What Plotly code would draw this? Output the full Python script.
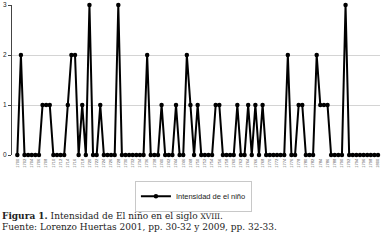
import plotly.graph_objects as go

years = list(range(1700, 1801))
intensidad = [
    0, 2, 0, 0, 0, 0, 0, 1, 1, 1,
    0, 0, 0, 0, 1, 2, 2, 0, 1, 0,
    3, 0, 0, 1, 0, 0, 0, 0, 3, 0,
    0, 0, 0, 0, 0, 0, 2, 0, 0, 0,
    1, 0, 0, 0, 1, 0, 0, 2, 1, 0,
    1, 0, 0, 0, 0, 1, 1, 0, 0, 0,
    0, 1, 0, 0, 1, 0, 1, 0, 1, 0,
    0, 0, 0, 0, 0, 2, 0, 0, 1, 1,
    0, 0, 0, 2, 1, 1, 1, 0, 0, 0,
    0, 3, 0, 0, 0, 0, 0, 0, 0, 0,
    0,
]
tick_years = years[::2]
tick_labels = [str(y) for y in tick_years]
y_ticks = [0, 1, 2, 3]
series_name = "Intensidad de el niño"
caption_1 = "<b>Figura 1.</b> Intensidad de El niño en el siglo <span style='font-size:7.5px'>XVIII</span>."
caption_2 = "Fuente: Lorenzo Huertas 2001, pp. 30-32 y 2009, pp. 32-33."

fig = go.Figure()
fig.add_trace(go.Scatter(
    x=years, y=intensidad, mode="lines+markers", name=series_name,
    line=dict(color="black", width=2),
    marker=dict(color="black", size=4.5),
    cliponaxis=False,
))

fig.update_layout(
    width=382, height=243,
    margin=dict(l=12, r=2, t=5, b=88),
    paper_bgcolor="white", plot_bgcolor="white",
    showlegend=True,
    legend=dict(
        x=0.493, xanchor="center", y=-0.171, yanchor="top",
        bordercolor="#c8c8c8", borderwidth=1,
        font=dict(family="Liberation Sans Narrow, Arial Narrow, Liberation Sans", size=7.5, color="#222"),
        itemwidth=30,
    ),
    font=dict(family="Liberation Sans", color="#333"),
)
fig.update_xaxes(
    range=[1698.53, 1800.55],
    tickmode="array", tickvals=tick_years, ticktext=tick_labels,
    tickangle=-90, tickfont=dict(size=4, color="#555"),
    showgrid=False, zeroline=False, showline=False,
    ticks="", ticklabelstandoff=2,
)
fig.update_yaxes(
    range=[0, 3], tickvals=y_ticks,
    tickfont=dict(size=6.5, color="#222"),
    showgrid=True, gridcolor="#d4d4d4", gridwidth=1,
    zeroline=False, showline=True, linecolor="#444", linewidth=1,
    ticks="outside", ticklen=3, tickcolor="#444",
)
fig.add_annotation(
    text=caption_1, xref="paper", yref="paper", x=-0.0326, y=-0.407,
    xanchor="left", yanchor="middle", showarrow=False,
    font=dict(family="DejaVu Serif", size=9, color="#222"),
)
fig.add_annotation(
    text=caption_2, xref="paper", yref="paper", x=-0.0326, y=-0.477,
    xanchor="left", yanchor="middle", showarrow=False,
    font=dict(family="DejaVu Serif", size=9, color="#222"),
)

fig.write_html("out.html")
